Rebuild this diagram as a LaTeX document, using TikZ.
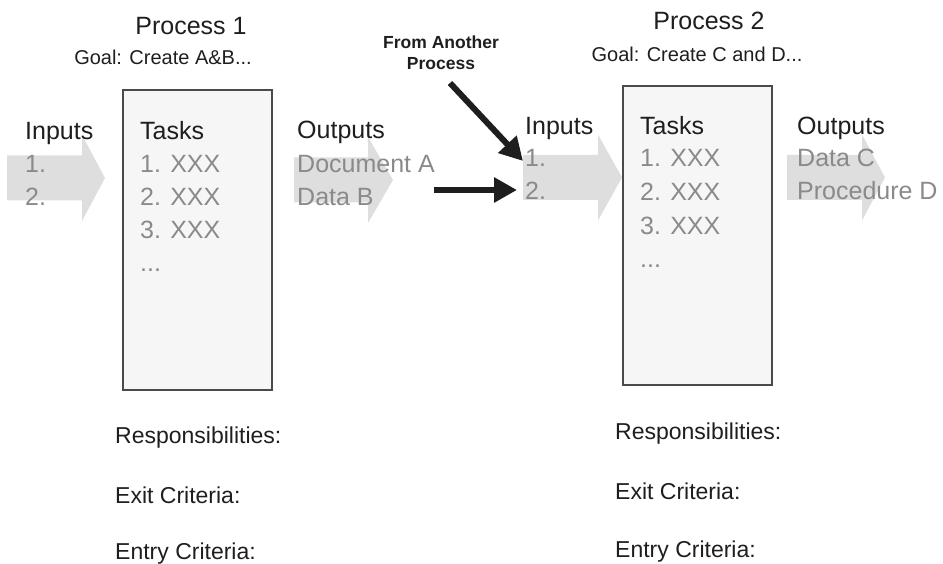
\documentclass[tikz,border=0pt]{standalone}
\usepackage{fontspec}
\setmainfont{Liberation Sans}
\usetikzlibrary{arrows.meta}
\definecolor{txtdark}{HTML}{1E1E1E}
\definecolor{txtgray}{HTML}{8A8A8A}
\definecolor{arrgray}{HTML}{DEDEDE}
\definecolor{boxfill}{HTML}{F6F6F6}
\definecolor{boxline}{HTML}{4A4A4A}
\tikzset{
  bigfont/.style={font=\fontsize{25}{30}\selectfont},
  head/.style={bigfont, text=txtdark, anchor=base west, inner sep=0},
  item/.style={bigfont, text=txtgray, anchor=base west, inner sep=0},
  title/.style={bigfont, text=txtdark, anchor=base, inner sep=0},
  goal/.style={font=\fontsize{20}{24}\selectfont, text=txtdark, anchor=base, inner sep=0},
  note/.style={font=\fontsize{23}{27}\selectfont, text=txtdark, anchor=base west, inner sep=0},
  srcnote/.style={font=\bfseries\fontsize{17.5}{21}\selectfont, text=txtdark, align=center, anchor=base, inner sep=0},
  taskbox/.style={draw=boxline, fill=boxfill, line width=1.2pt, inner sep=0},
  fatarrow/.style={fill=arrgray, draw=none},
  feed/.style={draw=txtdark, line width=6pt, -{Triangle[length=23pt,width=24pt]}}
}
\newcommand{\fatarr}[4]{% x0, x1 (head start), x2 (tip), yc
  \fill[fatarrow] (#1,#4-22.5) -- (#2,#4-22.5) -- (#2,#4-43) -- (#3,#4) -- (#2,#4+43) -- (#2,#4+22.5) -- (#1,#4+22.5) -- cycle;}
\begin{document}
\begin{tikzpicture}[x=1pt,y=-1pt]
\useasboundingbox (0,0) rectangle (943,564);
% big gray arrows
\fatarr{7}{82}{105}{178}
\fatarr{294}{368}{393}{180}
\fatarr{523}{598}{622}{177.5}
\fatarr{787}{862}{885}{177.5}
% boxes
\node[taskbox, minimum width=149pt, minimum height=300pt] (p1box) at (197.5,240) {};
\node[taskbox, minimum width=149pt, minimum height=299pt] (p2box) at (697.5,235.5) {};
% Process 1
\node[title] (p1t) at (191,35) {Process 1};
\node[goal] (p1g) at (163,65) {Goal: Create A\&B...};
\node[head] (in1) at (25,140) {Inputs};
\node[item] (in1a) at (25,173) {1.};
\node[item] (in1b) at (25,206) {2.};
\node[head] (t1) at (140,140) {Tasks};
\node[item] (t1a) at (140,173) {1. XXX};
\node[item] (t1b) at (140,206) {2. XXX};
\node[item] (t1c) at (140,239) {3. XXX};
\node[item] (t1d) at (140,272) {...};
\node[head] (o1) at (297,139) {Outputs};
\node[item] (o1a) at (297,173) {Document A};
\node[item] (o1b) at (297,206) {Data B};
% Process 2
\node[title] (p2t) at (709,30) {Process 2};
\node[goal] (p2g) at (697,62) {Goal: Create C and D...};
\node[head] (in2) at (525,135) {Inputs};
\node[item] (in2a) at (525,167) {1.};
\node[item] (in2b) at (525,200) {2.};
\node[head] (t2) at (640,135) {Tasks};
\node[item] (t2a) at (640,167) {1. XXX};
\node[item] (t2b) at (640,201) {2. XXX};
\node[item] (t2c) at (640,235) {3. XXX};
\node[item] (t2d) at (640,268) {...};
\node[head] (o2) at (797,135) {Outputs};
\node[item] (o2a) at (797,167) {Data C};
\node[item] (o2b) at (797,200) {Procedure D};
% From another process
\node[srcnote] (src) at (441,70) {From Another\\Process};
\coordinate (dstart) at (450,83);
\coordinate (dend) at (523,161);
\coordinate (hstart) at (434,190);
\coordinate (hend) at (517,190);
\draw[feed] (dstart) -- (dend);
\draw[feed] (hstart) -- (hend);
% bottom notes
\node[note] (r1) at (115,443) {Responsibilities:};
\node[note] (x1) at (115,503) {Exit Criteria:};
\node[note] (e1) at (115,559) {Entry Criteria:};
\node[note] (r2) at (615,439) {Responsibilities:};
\node[note] (x2) at (615,499) {Exit Criteria:};
\node[note] (e2) at (615,557) {Entry Criteria:};
\end{tikzpicture}
\end{document}
